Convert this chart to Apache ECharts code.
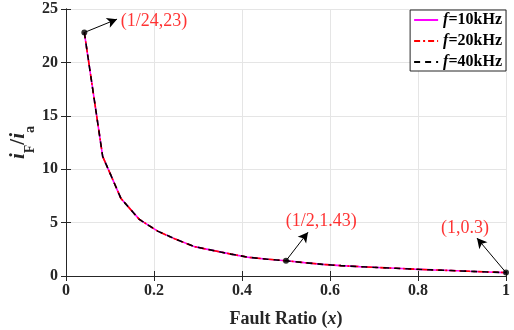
<!DOCTYPE html>
<html>
<head>
<meta charset="utf-8">
<script src="https://cdn.jsdelivr.net/npm/echarts@6/dist/echarts.min.js"></script>
<style>html,body{margin:0;padding:0;background:#fff}#c{width:514px;height:330px}</style>
</head>
<body>
<div id="c"></div>
<script>
// Fault ratio x = n/24, n = 1..24
const faultRatio = [1/24,2/24,3/24,4/24,5/24,6/24,7/24,8/24,9/24,10/24,11/24,12/24,13/24,14/24,15/24,16/24,17/24,18/24,19/24,20/24,21/24,22/24,23/24,24/24];
const currentRatio10k = [22.8,11.2,7.25,5.3,4.2,3.43,2.75,2.4,2.05,1.74,1.57,1.43,1.25,1.09,0.97,0.88,0.8,0.72,0.64,0.57,0.51,0.44,0.38,0.32];
const currentRatio20k = currentRatio10k.slice();
const currentRatio40k = currentRatio10k.slice();
const seriesNames = ['10kHz','20kHz','40kHz'];
const xTicks = [0,0.2,0.4,0.6,0.8,1];
const yTicks = [0,5,10,15,20,25];
// annotations
const annPoints = [[1/24,22.8],[0.5,1.43],[1,0.32]];
const annText = ['(1/24,23)','(1/2,1.43)','(1,0.3)'];
const annArrowEnd = [[0.116,24.05],[0.55,4.1],[0.934,3.55]];
const annTextPos = [[0.2,23.85],[0.58,5.1],[0.907,4.5]];

const FONT = '"Liberation Serif","Times New Roman",serif';
const chart = echarts.init(document.getElementById('c'));
const mk = arr => faultRatio.map((x,i)=>[x,arr[i]]);
const legendRich = {f:{fontStyle:'italic',fontWeight:'bold',fontFamily:FONT,fontSize:16,color:'#000'},
  t:{fontWeight:'bold',fontFamily:FONT,fontSize:16,color:'#000'}};
const commonAxis = {
  axisLine:{show:true,lineStyle:{color:'#262626',width:1}},
  axisTick:{show:true,inside:true,length:5,lineStyle:{color:'#262626'}},
  splitLine:{show:false}
};
chart.setOption({
  animation:false,
  grid:{left:66,right:8,top:9,bottom:54,containLabel:false,outerBoundsMode:'none'},
  legend:{
    show:true,right:8,top:10,orient:'vertical',itemWidth:24,itemHeight:12,itemGap:5,
    backgroundColor:'#fff',borderColor:'#262626',borderWidth:1,padding:[2,4,1,3],
    itemStyle:{opacity:0},
    data:seriesNames,
    formatter: n => '{f|f}{t|=' + n + '}',
    textStyle:{rich:legendRich}
  },
  xAxis:[{
    type:'value',min:0,max:1,interval:0.2,
    ...commonAxis,
    splitLine:{show:true,lineStyle:{color:'#e5e5e5',width:1}},
    axisLabel:{fontFamily:FONT,fontWeight:'bold',fontSize:16,color:'#262626',margin:7,
      formatter:v=>String(+v.toFixed(1))},
    name:'{t|Fault Ratio (}{i|x}{t|)}',nameLocation:'middle',nameGap:34,
    nameTextStyle:{rich:{t:{fontFamily:FONT,fontWeight:'bold',fontSize:18,color:'#262626'},
      i:{fontFamily:FONT,fontWeight:'bold',fontStyle:'italic',fontSize:18,color:'#262626'}}}
  },{
    type:'value',min:0,max:1,interval:0.2,position:'top',
    ...commonAxis,axisLabel:{show:false}
  }],
  yAxis:[{
    type:'value',min:0,max:25,interval:5,
    ...commonAxis,
    splitLine:{show:true,lineStyle:{color:'#e5e5e5',width:1}},
    axisLabel:{fontFamily:FONT,fontWeight:'bold',fontSize:16,color:'#262626',margin:8},
    name:'{i|i}{s|F}{t|/}{i|i}{s|a}',nameLocation:'middle',nameGap:29,nameRotate:90,
    nameMoveOverlap:false,
    nameTextStyle:{rich:{
      i:{fontFamily:FONT,fontWeight:'bold',fontStyle:'italic',fontSize:21,color:'#262626',lineHeight:20,verticalAlign:'top'},
      t:{fontFamily:FONT,fontWeight:'bold',fontSize:21,color:'#262626',lineHeight:20,verticalAlign:'top'},
      s:{fontFamily:FONT,fontWeight:'bold',fontSize:14,color:'#262626',lineHeight:29,verticalAlign:'bottom'}
    }}
  },{
    type:'value',min:0,max:25,interval:5,position:'right',
    ...commonAxis,axisLabel:{show:false}
  }],
  series:[
    {name:seriesNames[0],type:'line',data:mk(currentRatio10k),showSymbol:false,symbol:'none',
      lineStyle:{color:'#ff00ff',width:1.6,type:'solid'},itemStyle:{color:'#ff00ff'},z:2},
    {name:seriesNames[1],type:'line',data:mk(currentRatio20k),showSymbol:false,symbol:'none',
      lineStyle:{color:'#ff0000',width:1.6,type:[6,3,2,3]},itemStyle:{color:'#ff0000'},z:3},
    {name:seriesNames[2],type:'line',data:mk(currentRatio40k),showSymbol:false,symbol:'none',
      lineStyle:{color:'#000000',width:1.6,type:[6,5]},itemStyle:{color:'#000'},z:4},
    {type:'scatter',data:annPoints,symbol:'circle',symbolSize:6,itemStyle:{color:'#000'},z:6,
      silent:true,
      markLine:{silent:true,symbol:['none','arrow'],symbolSize:[8,10],animation:false,
        lineStyle:{color:'#000',width:1,type:'solid'},label:{show:false},
        data:annPoints.map((p,i)=>[{coord:p},{coord:annArrowEnd[i]}])}
    },
    {type:'scatter',data:annTextPos.map((p,i)=>({value:p,name:annText[i]})),symbolSize:0,silent:true,z:7,
      label:{show:true,position:'inside',formatter:p=>p.name,fontFamily:FONT,fontSize:18,color:'#ff0000'}}
  ]
});
</script>
</body>
</html>
